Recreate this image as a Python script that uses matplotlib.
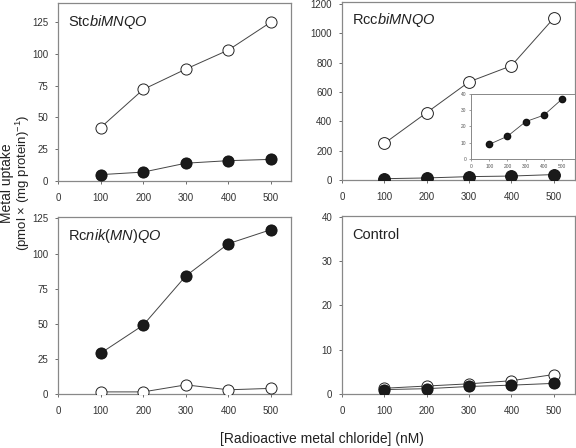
import matplotlib
matplotlib.use('Agg')
import matplotlib.pyplot as plt

plt.rcParams['font.family'] = ['Liberation Sans', 'DejaVu Sans']
plt.rcParams['mathtext.fontset'] = 'custom'
plt.rcParams['mathtext.rm'] = 'Liberation Sans'
plt.rcParams['mathtext.it'] = 'Liberation Sans:italic'

conc = [100, 200, 300, 400, 500]

# StcbiMNQO
stc_open = [42, 72, 88, 103, 125]
stc_filled = [5, 7, 14, 16, 17]
# RccbiMNQO
rcc_open = [250, 460, 670, 780, 1105]
rcc_filled = [9, 14, 23, 27, 37]
# Rcnik(MN)QO
rcn_open = [1.5, 1.5, 6.5, 3, 4]
rcn_filled = [29, 49, 84, 107, 117]
# Control
ctl_open = [1.3, 1.8, 2.3, 3.0, 4.4]
ctl_filled = [1.0, 1.2, 1.7, 2.0, 2.4]

W, H = 576, 448
fig = plt.figure(figsize=(W / 100, H / 100), dpi=100)


def px_axes(x0, x1, ytop, ybot):
    return fig.add_axes([x0 / W, 1 - ybot / H, (x1 - x0) / W, (ybot - ytop) / H])


def style(ax, xmax, ymax, yticks, fs=7, ms_len=2.5):
    ax.set_xlim(0, xmax)
    ax.set_ylim(0, ymax)
    ax.set_xticks([0, 100, 200, 300, 400, 500])
    ax.set_yticks(yticks)
    for s in ax.spines.values():
        s.set_color('#888888')
        s.set_linewidth(0.9)
    ax.tick_params(labelsize=fs, colors='#555555', length=ms_len, width=0.6,
                   direction='out', pad=6, labelcolor='#333333')
    ax.tick_params(axis='y', pad=4.5)


def draw(ax, op, fi, ms=8):
    ax.plot(conc, op, '-o', color='#444444', lw=0.7, ms=ms, mfc='white',
            mec='#222222', mew=0.7, zorder=3)
    ax.plot(conc, fi, '-o', color='#444444', lw=0.7, ms=ms, mfc='#1a1a1a',
            mec='#111111', mew=0.7, zorder=4)


ax1 = px_axes(58, 291, 3, 181)
style(ax1, 547, 140, [0, 25, 50, 75, 100, 125])
draw(ax1, stc_open, stc_filled)
ax1.text(0.043, 0.893, r'Stc$\mathit{biMNQO}$', transform=ax1.transAxes,
         fontsize=10.5, va='center', color='#222222')

ax2 = px_axes(342, 575, 2, 180)
style(ax2, 550, 1215, [0, 200, 400, 600, 800, 1000, 1200])
draw(ax2, rcc_open, rcc_filled, ms=8.5)
ax2.text(0.043, 0.9, r'Rcc$\mathit{biMNQO}$', transform=ax2.transAxes,
         fontsize=10.5, va='center', color='#222222')

ax_in = px_axes(471, 575, 94, 159)
ax_in.set_xlim(0, 570)
ax_in.set_ylim(0, 40)
ax_in.set_xticks([0, 100, 200, 300, 400, 500])
ax_in.set_yticks([0, 10, 20, 30, 40])
for s in ax_in.spines.values():
    s.set_color('#888888')
    s.set_linewidth(0.7)
ax_in.tick_params(labelsize=3.5, length=1.5, width=0.4, pad=2, colors='#555555')
ax_in.plot(conc, rcc_filled, '-o', color='#444444', lw=0.6, ms=4.5,
           mfc='#1a1a1a', mec='#111111')

ax3 = px_axes(58, 291, 217, 394)
style(ax3, 547, 126, [0, 25, 50, 75, 100, 125])
draw(ax3, rcn_open, rcn_filled)
ax3.text(0.043, 0.895, r'Rc$\mathit{nik(MN)QO}$', transform=ax3.transAxes,
         fontsize=10.5, va='center', color='#222222')

ax4 = px_axes(342, 575, 216, 394)
style(ax4, 550, 40.2, [0, 10, 20, 30, 40])
draw(ax4, ctl_open, ctl_filled)
ax4.text(0.043, 0.895, 'Control', transform=ax4.transAxes,
         fontsize=10.5, va='center', color='#222222')

# y label, two lines
fig.text(7 / W, 1 - 183 / H, 'Metal uptake', rotation=90, ha='center',
         va='center', fontsize=10, color='#222222')
fig.text(22.5 / W, 1 - 183 / H, '(pmol \u00d7 (mg protein)$^{-1}$)', rotation=90,
         ha='center', va='center', fontsize=9.5, color='#222222')
fig.text(322 / W, 1 - 439 / H, '[Radioactive metal chloride] (nM)',
         ha='center', va='center', fontsize=10, color='#222222')

fig.savefig('out.png', dpi=100)
